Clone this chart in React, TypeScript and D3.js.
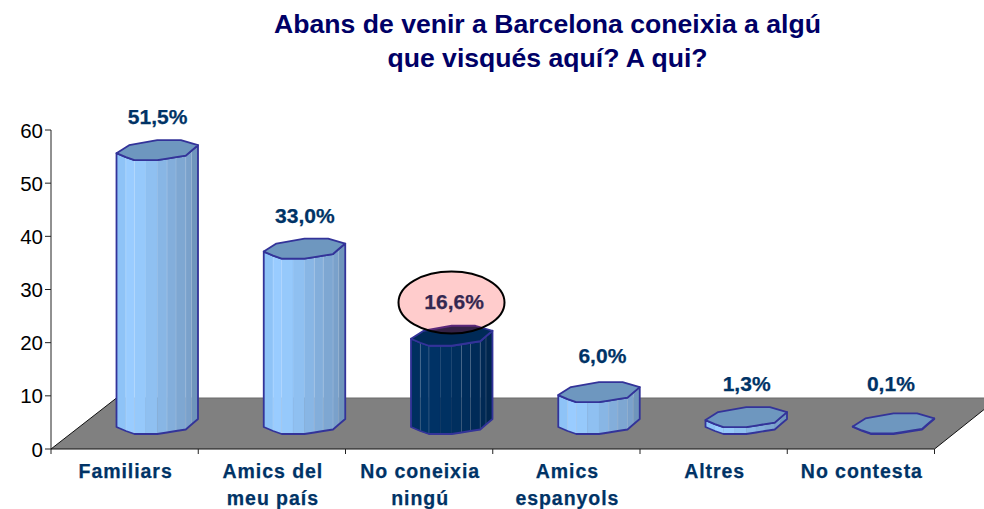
import React from "react";
import * as d3 from "d3";

const categories = ["Familiars", "Amics del|meu país", "No coneixia|ningú", "Amics|espanyols", "Altres", "No contesta"];
const values = [51.5, 33.0, 16.6, 6.0, 1.3, 0.1];
const valueLabels = ["51,5%", "33,0%", "16,6%", "6,0%", "1,3%", "0,1%"];
const yTicks = [0, 10, 20, 30, 40, 50, 60];
const titleLines = ["Abans de venir a Barcelona coneixia a algú", "que visqués aquí? A qui?"];

const W = 984, H = 509;
const y = d3.scaleLinear().domain([0, 60]).range([449, 130]);
const x = d3.scaleBand<number>().domain(d3.range(categories.length)).range([51, 934.5]);
const FONT = "'Liberation Sans', Arial, sans-serif";
const NAVY = "#003366";
const DEPTH_X = 65.5, DEPTH_Y = 25, BAR_W = 81.5;

// cylinder rim as fraction of width / pixel offset from the centre of the cap
const frontRim: [number, number][] = [[0, 3], [0.115, 7], [0.22, 10], [0.36, 10], [0.5, 10], [0.62, 8.5], [0.73, 7], [0.85, 5.5], [0.92, 0.5], [1, -5]];
const backRim: [number, number][] = [[1, -5], [0.79, -10], [0.5, -10], [0.155, -5], [0, 3]];
const lightFacets = ["#8ec3f7", "#99ccff", "#96c9fb", "#8fc0f1", "#88b6e5", "#83aedb", "#7ea7d2", "#7aa1cb", "#6f95bc"];
const darkFacets = ["#002f60", "#003366", "#003265", "#003162", "#002f5e", "#002d5b", "#002b58", "#002955", "#00264e"];
const seamFractions = [0.115, 0.22, 0.62, 0.73, 0.85, 0.92];
const labelNudge = [1, 1, 3, 4, 1, -2];
const labelLift = [0, 2, 1, 3, 0, 0];
const STROKE = "#333399";

export default function App() {
  const base = y(0) - DEPTH_Y;
  const [x0, x1] = x.range();
  return (
    <svg width={W} height={H} viewBox={`0 0 ${W} ${H}`} style={{ position: "absolute", left: 0, top: 0, display: "block", background: "#fff" }} fontFamily={FONT}>
      {titleLines.map((t, i) => (
        <text key={t} x={547.5} y={33 + i * 34} textAnchor="middle" fontSize={26.6} fontWeight="bold" fill="#000066">{t}</text>
      ))}

      <polygon points={`${x0},449 ${x1},449 ${x1 + 64},398 ${x0 + DEPTH_X},398`} fill="#808080" />
      <line x1={x0 + DEPTH_X} y1={398} x2={W} y2={398} stroke="#6a6a6a" />
      <line x1={x0} y1={449} x2={x0 + DEPTH_X} y2={398} stroke="#111" />
      <line x1={x1} y1={449} x2={x1 + 64} y2={398} stroke="#111" />

      <line x1={51} y1={y(60)} x2={51} y2={y(0) + 5} stroke="#222" />
      <line x1={51} y1={y(0)} x2={x1} y2={y(0)} stroke="#111" />
      {yTicks.map(t => (
        <g key={t}>
          <line x1={45} x2={51} y1={y(t)} y2={y(t)} stroke="#222" />
          <text x={43} y={y(t) + 7.5} textAnchor="end" fontSize={20.5} fill="#000">{t}</text>
        </g>
      ))}
      {categories.map((_, i) => (
        <line key={i} x1={x(i)! + x.bandwidth()} x2={x(i)! + x.bandwidth()} y1={449} y2={454} stroke="#222" />
      ))}

      {values.map((v, i) => {
        const left = x(i)! + DEPTH_X;
        const h = y(0) - y(v);
        const top = base - h;
        const px = (f: number) => left + f * BAR_W;
        const facets = i === 2 ? darkFacets : lightFacets;
        const rim = [...frontRim, ...backRim.slice(1, -1)];
        const cap = rim.map(([f, d]) => `${px(f)},${top + d}`).join(" ");
        const outline = [
          ...frontRim.map(([f, d]) => [px(f), base + d] as [number, number]),
          ...frontRim.slice().reverse().map(([f, d]) => [px(f), top + d] as [number, number]),
        ];
        return (
          <g key={i}>
            {frontRim.slice(0, -1).map(([f, d], j) => {
              const [f2, d2] = frontRim[j + 1];
              return (
                <polygon key={j} fill={facets[j]} stroke={facets[j]} strokeWidth={0.3}
                  points={`${px(f)},${top + d} ${px(f2)},${top + d2} ${px(f2)},${base + d2} ${px(f)},${base + d}`} />
              );
            })}
            {h > 20 && frontRim.filter(([f]) => seamFractions.includes(f)).map(([f, d]) => (
              <line key={f} x1={px(f)} x2={px(f)} y1={top + d} y2={base + d} stroke="#ffffff" strokeOpacity={0.22} strokeWidth={0.8} />
            ))}
            <polygon points={outline.map(p => p.join(",")).join(" ")} fill="none" stroke={STROKE} strokeWidth={1.8} strokeLinejoin="round" />
            <polygon points={cap} fill={i === 2 ? "#002a57" : "#6e97bf"} stroke={STROKE} strokeWidth={1.8} strokeLinejoin="round" />
          </g>
        );
      })}

      {valueLabels.map((l, i) => {
        const cx = x(i)! + x.bandwidth() / 2 + 32 + labelNudge[i];
        const ly = Math.min(y(values[i]) - 51, 391) - labelLift[i] + (i === 1 ? 2 : 0);
        return <text key={l} x={cx} y={ly} textAnchor="middle" fontSize={21} fontWeight="bold" fill={NAVY} stroke={NAVY} strokeWidth={0.25}>{l}</text>;
      })}

      {categories.map((c, i) =>
        c.split("|").map((line, k) => (
          <text key={line} x={x(i)! + x.bandwidth() / 2 + 1} y={478 + k * 27} textAnchor="middle" fontSize={19.5} fontWeight="bold" letterSpacing={0.95} fill={NAVY} stroke={NAVY} strokeWidth={0.25}>{line}</text>
        ))
      )}

      <ellipse cx={451.5} cy={302.5} rx={53} ry={31} fill="#ff0000" fillOpacity={0.2} stroke="#000" strokeWidth={2} />
    </svg>
  );
}
